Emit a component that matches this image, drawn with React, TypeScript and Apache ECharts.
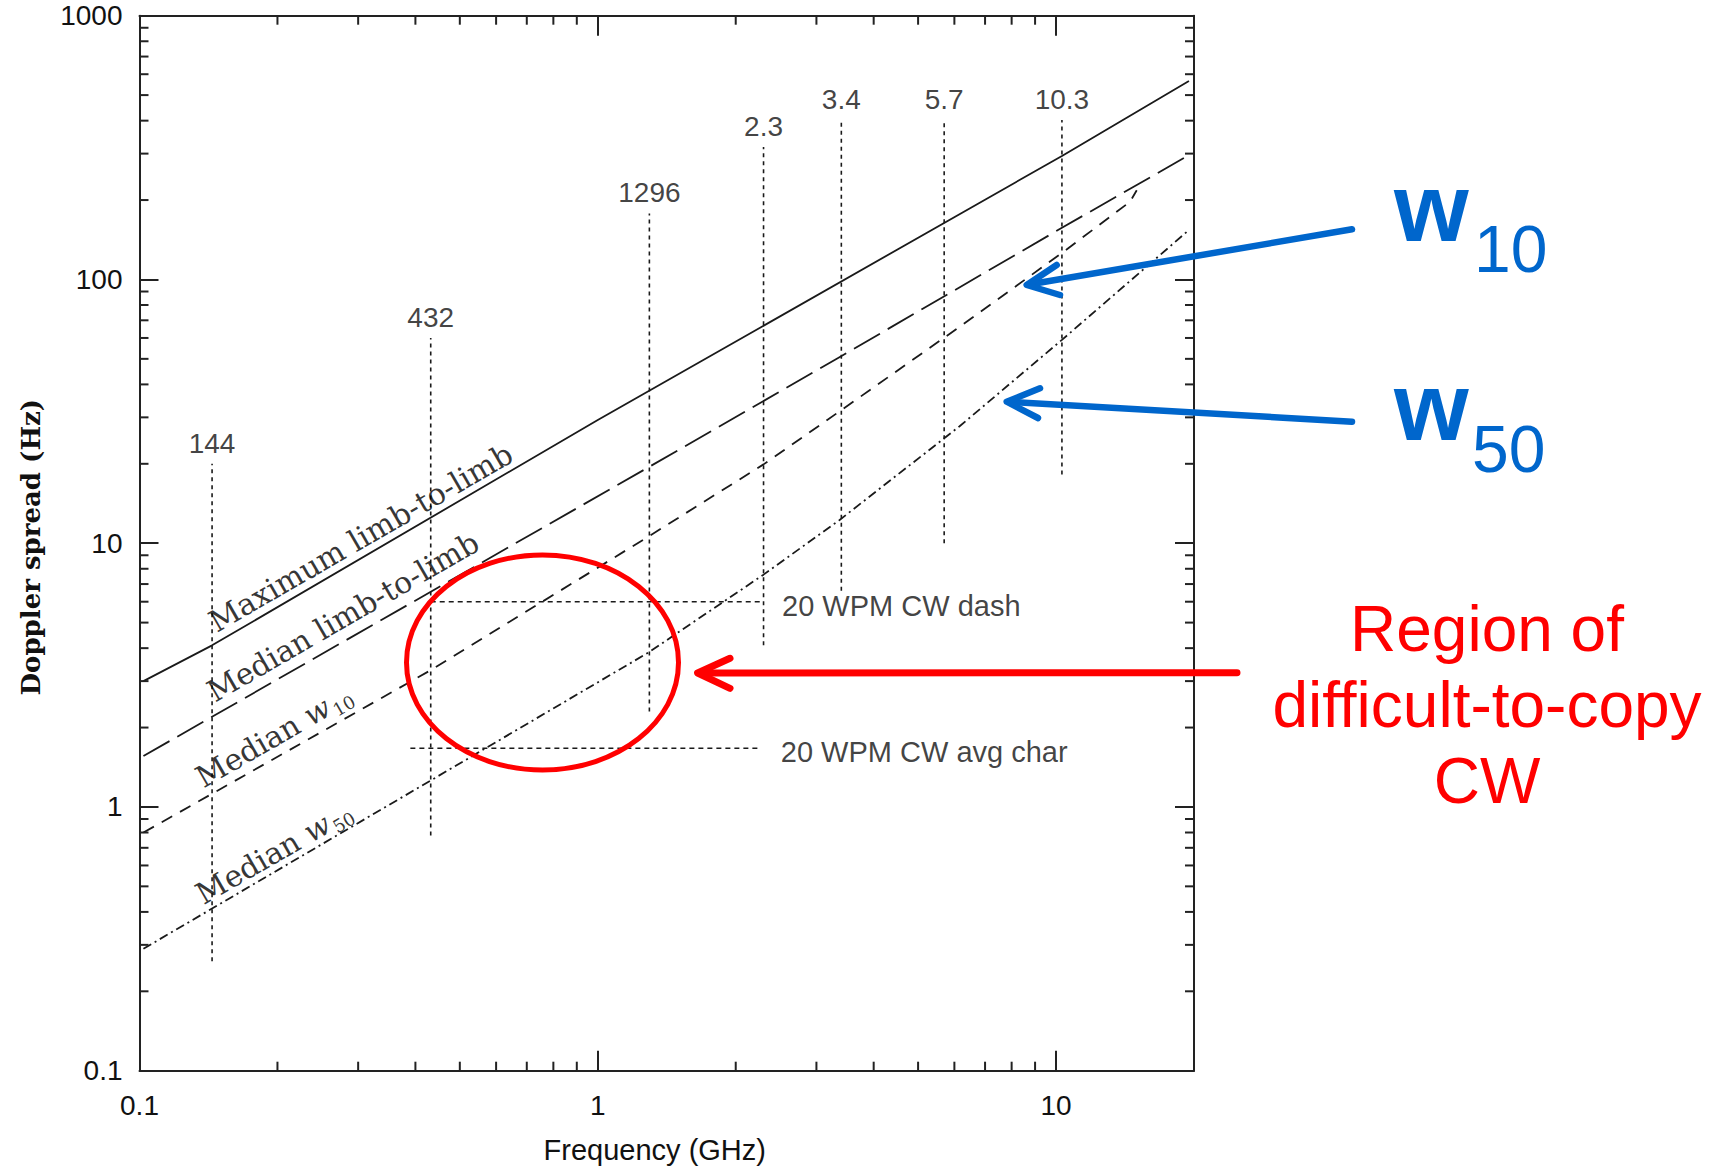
import React, { useEffect, useRef } from 'react';
import * as echarts from 'echarts';

// ---- axis extents ----
const X_MIN = 0.1;
const X_MAX = 20;
const Y_MIN = 0.1;
const Y_MAX = 1000;

// ---- curves (frequency GHz, Doppler spread Hz) ----
const maxFreq = [0.102, 0.144, 1, 10.3, 19.5];
const maxVal = [3.0, 4.1, 29.3, 294, 565];
const medFreq = [0.102, 1.29, 3.36, 10.3, 19.5];
const medVal = [1.56, 19.4, 50.6, 157, 296];
const w10Freq = [0.102, 0.432, 1.29, 2.3, 3.36, 6.15, 10.3, 14.5, 15.0];
const w10Val = [0.8, 3.3, 10.6, 19.9, 31.5, 66, 126, 197, 218];
const w50Freq = [0.102, 0.432, 1.29, 2.3, 3.36, 6.15, 10.3, 19.5];
const w50Val = [0.29, 1.26, 3.85, 7.6, 12.2, 27.7, 59, 154];

// ---- amateur band markers ----
const bandFreq = [0.144, 0.432, 1.296, 2.3, 3.4, 5.7, 10.3];
const bandLabels = ['144', '432', '1296', '2.3', '3.4', '5.7', '10.3'];
const bandTop = [20, 60, 178, 318, 402, 402, 402];
const bandBottom = [0.26, 0.78, 2.3, 4.1, 6.6, 10, 18.2];

// ---- CW reference lines ----
const cwDashFreq = [0.432, 2.3];
const cwDashVal = 6.0;
const cwAvgFreq = [0.39, 2.24];
const cwAvgVal = 1.67;
const cwLabels = ['20 WPM CW dash', '20 WPM CW avg char'];

// ---- curve labels ----
const curveLabelText = [
  'Maximum limb-to-limb',
  'Median limb-to-limb',
  'Median {w|w}{s|10}',
  'Median {w|w}{s|50}',
];
const curveLabelFreq = [0.304, 0.278, 0.1965, 0.1965];
const curveLabelVal = [10.5, 5.26, 1.86, 0.672];

// ---- minor ticks ----
const xMinorTicks = [0.2, 0.3, 0.4, 0.5, 0.6, 0.7, 0.8, 0.9, 2, 3, 4, 5, 6, 7, 8, 9];
const yMinorTicks = [
  0.2, 0.3, 0.4, 0.5, 0.6, 0.7, 0.8, 0.9,
  2, 3, 4, 5, 6, 7, 8, 9,
  20, 30, 40, 50, 60, 70, 80, 90,
  200, 300, 400, 500, 600, 700, 800, 900,
];

const SANS = 'Liberation Sans';
const SERIF = 'DejaVu Serif';
const INK = '#1a1a1a';

const decadeLabel = (v: number) => {
  const l = Math.log10(v);
  if (Math.abs(l - Math.round(l)) > 1e-6) return '';
  return String(Number(v.toPrecision(4)));
};

const App = () => {
  const ref = useRef<HTMLDivElement>(null);

  useEffect(() => {
    if (!ref.current) return;
    const chart = echarts.init(ref.current, undefined, { renderer: 'svg' });

    const axisLineStyle = { color: '#222', width: 2 };
    const tickStyle = { stroke: '#222', lineWidth: 2 };

    const xBase = {
      type: 'log',
      logBase: 10,
      min: X_MIN,
      max: X_MAX,
      splitLine: { show: false },
      axisLine: { show: true, onZero: false, lineStyle: axisLineStyle },
      axisTick: { show: true, inside: true, length: 20, lineStyle: axisLineStyle },
    };
    const yBase = {
      type: 'log',
      logBase: 10,
      min: Y_MIN,
      max: Y_MAX,
      splitLine: { show: false },
      axisLine: { show: true, onZero: false, lineStyle: axisLineStyle },
      axisTick: { show: true, inside: true, length: 19, lineStyle: axisLineStyle },
    };

    const lineSeries = (name: string, f: number[], v: number[], type: any, width = 1.8) => ({
      name,
      type: 'line',
      data: f.map((x, i) => [x, v[i]]),
      showSymbol: false,
      symbol: 'none',
      silent: true,
      z: 3,
      lineStyle: { color: INK, width, type },
    });

    const bandSeries = bandFreq.map((f, i) => ({
      type: 'line',
      data: [
        [f, bandBottom[i]],
        [f, bandTop[i]],
      ],
      showSymbol: false,
      symbol: 'none',
      silent: true,
      z: 2,
      lineStyle: { color: INK, width: 1.6, type: [4, 4] },
    }));

    const serifLabel = {
      show: true,
      position: 'inside',
      rotate: 30,
      fontFamily: SERIF,
      fontSize: 30,
      color: '#000',
      lineHeight: 36,
      rich: {
        w: { fontFamily: SERIF, fontSize: 30, fontStyle: 'italic', color: '#000', lineHeight: 36 },
        s: { fontFamily: SERIF, fontSize: 18, color: '#000', verticalAlign: 'bottom', lineHeight: 18, padding: [0, 0, 0, 2] },
      },
    };

    const option: any = {
      animation: false,
      backgroundColor: '#ffffff',
      grid: { left: 139.5, right: 523, top: 15.7, bottom: 96.3, containLabel: false, outerBoundsMode: 'none' },
      xAxis: [
        {
          ...xBase,
          position: 'bottom',
          axisLabel: { show: true, margin: 21, fontSize: 28, fontFamily: SANS, color: '#111', formatter: decadeLabel },
          name: 'Frequency (GHz)',
          nameLocation: 'middle',
          nameGap: 65,
          nameTextStyle: { fontSize: 29, fontFamily: SANS, color: '#111', padding: [0, 24, 0, 0] },
        },
        { ...xBase, position: 'top', axisLabel: { show: false } },
      ],
      yAxis: [
        {
          ...yBase,
          position: 'left',
          axisLabel: { show: true, margin: 17, fontSize: 28, fontFamily: SANS, color: '#111', formatter: decadeLabel, padding: [8, 0, 0, 0] },
          name: 'Doppler spread (Hz)',
          nameLocation: 'middle',
          nameGap: 96,
          nameTextStyle: { fontSize: 26, fontFamily: SERIF, fontWeight: 'bold', color: '#111', padding: [0, 8, 0, 0] },
        },
        { ...yBase, position: 'right', axisLabel: { show: false } },
      ],
      series: [
        lineSeries('Maximum limb-to-limb', maxFreq, maxVal, 'solid', 1.8),
        lineSeries('Median limb-to-limb', medFreq, medVal, [30, 9]),
        lineSeries('Median w10', w10Freq, w10Val, [12, 9]),
        lineSeries('Median w50', w50Freq, w50Val, [9, 4, 2, 4]),
        ...bandSeries,
        {
          type: 'line',
          data: cwDashFreq.map((f) => [f, cwDashVal]),
          showSymbol: false,
          symbol: 'none',
          silent: true,
          z: 2,
          lineStyle: { color: INK, width: 1.6, type: [5, 4] },
        },
        {
          type: 'line',
          data: cwAvgFreq.map((f) => [f, cwAvgVal]),
          showSymbol: false,
          symbol: 'none',
          silent: true,
          z: 2,
          lineStyle: { color: INK, width: 1.6, type: [5, 4] },
        },
        // band labels
        {
          type: 'scatter',
          silent: true,
          symbolSize: 1,
          itemStyle: { color: 'transparent' },
          z: 4,
          data: bandFreq.map((f, i) => ({ value: [f, bandTop[i]], name: bandLabels[i] })),
          label: {
            show: true,
            position: 'top',
            distance: 6,
            formatter: '{b}',
            fontFamily: SANS,
            fontSize: 28,
            color: '#111',
          },
        },
        // CW labels
        {
          type: 'scatter',
          silent: true,
          symbolSize: 1,
          itemStyle: { color: 'transparent' },
          z: 4,
          data: [
            { value: [cwDashFreq[1], cwDashVal], name: cwLabels[0], label: { distance: 18 } },
            { value: [cwAvgFreq[1], cwAvgVal], name: cwLabels[1], label: { distance: 22 } },
          ],
          label: {
            show: true,
            position: 'right',
            offset: [0, 4],
            formatter: '{b}',
            fontFamily: SANS,
            fontSize: 29,
            color: '#111',
          },
        },
        // curve labels
        {
          type: 'scatter',
          silent: true,
          symbolSize: 1,
          itemStyle: { color: 'transparent' },
          z: 4,
          data: curveLabelFreq.map((f, i) => ({ value: [f, curveLabelVal[i]], name: curveLabelText[i] })),
          label: { ...serifLabel, formatter: '{b}' },
        },
        // minor ticks on x (bottom & top)
        {
          type: 'custom',
          silent: true,
          clip: false,
          z: 5,
          data: xMinorTicks.map((v) => [v, Y_MIN]),
          renderItem: (params: any, api: any) => {
            const v = api.value(0);
            const b = api.coord([v, Y_MIN]);
            const t = api.coord([v, Y_MAX]);
            return {
              type: 'group',
              children: [
                { type: 'line', shape: { x1: b[0], y1: b[1], x2: b[0], y2: b[1] - 9 }, style: tickStyle },
                { type: 'line', shape: { x1: t[0], y1: t[1], x2: t[0], y2: t[1] + 9 }, style: tickStyle },
              ],
            };
          },
        },
        // minor ticks on y (left & right)
        {
          type: 'custom',
          silent: true,
          clip: false,
          z: 5,
          data: yMinorTicks.map((v) => [X_MIN, v]),
          renderItem: (params: any, api: any) => {
            const v = api.value(1);
            const l = api.coord([X_MIN, v]);
            const r = api.coord([X_MAX, v]);
            return {
              type: 'group',
              children: [
                { type: 'line', shape: { x1: l[0], y1: l[1], x2: l[0] + 9, y2: l[1] }, style: tickStyle },
                { type: 'line', shape: { x1: r[0], y1: r[1], x2: r[0] - 9, y2: r[1] }, style: tickStyle },
              ],
            };
          },
        },
      ],
      graphic: [
        // red ellipse
        {
          type: 'ellipse',
          z: 100,
          shape: { cx: 542.5, cy: 662.5, rx: 136, ry: 107.5 },
          style: { fill: 'none', stroke: '#FF0000', lineWidth: 5 },
        },
        // red arrow
        {
          type: 'line',
          z: 100,
          shape: { x1: 1237, y1: 672.7, x2: 700, y2: 673 },
          style: { stroke: '#FF0000', lineWidth: 7, lineCap: 'round' },
        },
        {
          type: 'polyline',
          z: 100,
          shape: { points: [[730, 658.3], [697.6, 673], [730, 688.3]] },
          style: { stroke: '#FF0000', lineWidth: 7, lineCap: 'round', lineJoin: 'round', fill: 'none' },
        },
        // blue arrows
        {
          type: 'line',
          z: 100,
          shape: { x1: 1352, y1: 229.3, x2: 1029, y2: 284.5 },
          style: { stroke: '#0066CC', lineWidth: 6.5, lineCap: 'round' },
        },
        {
          type: 'polyline',
          z: 100,
          shape: { points: [[1056.7, 265], [1026.7, 285], [1060, 295]] },
          style: { stroke: '#0066CC', lineWidth: 6.5, lineCap: 'round', lineJoin: 'round', fill: 'none' },
        },
        {
          type: 'line',
          z: 100,
          shape: { x1: 1352, y1: 421.7, x2: 1009, y2: 401.8 },
          style: { stroke: '#0066CC', lineWidth: 6.5, lineCap: 'round' },
        },
        {
          type: 'polyline',
          z: 100,
          shape: { points: [[1040, 388.3], [1006.7, 401.7], [1038, 418]] },
          style: { stroke: '#0066CC', lineWidth: 6.5, lineCap: 'round', lineJoin: 'round', fill: 'none' },
        },
        // blue w10 / w50
        {
          type: 'text',
          z: 100,
          x: 1394,
          y: 207,
          style: { text: 'w', fontFamily: SANS, fontSize: 96, fontWeight: 'bold', fill: '#0066CC', align: 'left', verticalAlign: 'middle' },
        },
        {
          type: 'text',
          z: 100,
          x: 1474,
          y: 249,
          style: { text: '10', fontFamily: SANS, fontSize: 66, fill: '#0066CC', align: 'left', verticalAlign: 'middle' },
        },
        {
          type: 'text',
          z: 100,
          x: 1394,
          y: 406,
          style: { text: 'w', fontFamily: SANS, fontSize: 96, fontWeight: 'bold', fill: '#0066CC', align: 'left', verticalAlign: 'middle' },
        },
        {
          type: 'text',
          z: 100,
          x: 1472,
          y: 449,
          style: { text: '50', fontFamily: SANS, fontSize: 66, fill: '#0066CC', align: 'left', verticalAlign: 'middle' },
        },
        // red annotation text
        {
          type: 'text',
          z: 100,
          x: 1487,
          y: 704.5,
          style: {
            text: 'Region of\ndifficult-to-copy\nCW',
            fontFamily: SANS,
            fontSize: 64,
            lineHeight: 76,
            fill: '#FF0000',
            align: 'center',
            verticalAlign: 'middle',
          },
        },
      ],
    };

    chart.setOption(option);
    return () => {
      chart.dispose();
    };
  }, []);

  return (
    <div
      ref={ref}
      style={{ position: 'fixed', left: 0, top: 0, width: 1717, height: 1167, background: '#fff' }}
    />
  );
};

export default App;
